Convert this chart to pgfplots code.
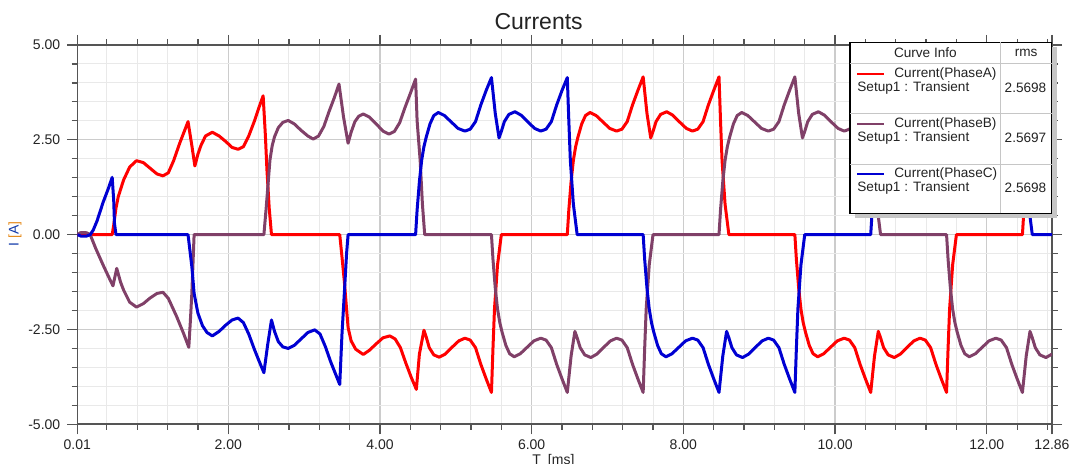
\documentclass[border=0pt]{standalone}
\usepackage{fontspec}
\setmainfont{Liberation Sans}
\usepackage{pgfplots}
\pgfplotsset{compat=1.18}
\definecolor{phA}{RGB}{255,0,0}
\definecolor{phB}{RGB}{128,64,104}
\definecolor{phC}{RGB}{0,0,210}
\definecolor{axisgray}{RGB}{85,85,85}
\definecolor{txt}{RGB}{35,35,35}
\definecolor{ylabblue}{RGB}{20,60,170}
\definecolor{ylaborange}{RGB}{230,140,30}

\begin{document}
\begin{tikzpicture}[x=1pt,y=1pt]
\path[use as bounding box] (0,0) rectangle (539,232);
\begin{axis}[
  at={(38.65pt,19.85pt)}, anchor=south west,
  scale only axis, width=487.35pt, height=189.65pt,
  xmin=0.01, xmax=12.86, ymin=-5, ymax=5,
  xtick={0.01,2,4,6,8,10,12,12.86},
  xticklabels={0.01,2.00,4.00,6.00,8.00,10.00,12.00,12.86},
  minor xtick={0.4,0.8,...,12.8},
  ytick={-5,-2.5,0,2.5,5},
  yticklabels={-5.00,-2.50,0.00,2.50,5.00},
  minor ytick={-4.5,-4,...,4.5},
  tick align=outside,
  major tick length=5pt, minor tick length=2.8pt,
  tick style={axisgray, line width=0.6pt},
  axis line style={axisgray, line width=0.8pt},
  grid=both,
  minor grid style={gray!17, line width=0.5pt},
  major grid style={gray!40, line width=0.6pt},
  tick label style={font=\fontsize{7}{8}\selectfont, text=txt},
  xticklabel style={yshift=1pt},
  every axis plot/.append style={line width=1.5pt, line join=round},
]
\addplot[phA] coordinates {
(0.01,0) (0.47,0) (0.49,0.25) (0.52,0.70) (0.55,1.00) (0.62,1.44) (0.70,1.78) (0.79,1.95) (0.88,1.90) (0.97,1.75) (1.06,1.60) (1.14,1.55) (1.21,1.63) (1.28,1.95) (1.36,2.41) (1.42,2.72) (1.47,2.98) (1.52,2.35) (1.56,1.81) (1.60,2.12) (1.64,2.35) (1.70,2.60) (1.79,2.70) (1.88,2.60) (1.97,2.45) (2.05,2.30) (2.13,2.25) (2.20,2.32) (2.27,2.60) (2.35,3.02) (2.41,3.38) (2.46,3.66) (2.49,2.60) (2.51,1.71) (2.54,0.70) (2.57,0)
(3.47,0) (3.50,-0.60) (3.53,-1.22) (3.58,-2.45) (3.62,-2.80) (3.68,-3.02) (3.78,-3.16) (3.86,-3.05) (3.95,-2.88) (4.04,-2.72) (4.13,-2.67) (4.20,-2.75) (4.27,-2.98) (4.34,-3.38) (4.41,-3.75) (4.48,-4.08) (4.52,-3.15) (4.58,-2.52) (4.61,-2.70) (4.65,-2.98) (4.71,-3.17) (4.78,-3.23) (4.86,-3.15) (4.95,-2.97) (5.04,-2.80) (5.12,-2.73) (5.19,-2.78) (5.26,-2.98) (5.33,-3.42) (5.40,-3.80) (5.47,-4.16) (5.49,-3.00) (5.51,-1.96) (5.55,-0.80) (5.60,0)
(6.47,0) (6.49,0.65) (6.52,1.40) (6.55,1.96) (6.58,2.32) (6.61,2.57) (6.66,2.92) (6.71,3.14) (6.77,3.22) (6.85,3.14) (6.94,2.97) (7.03,2.80) (7.12,2.73) (7.19,2.78) (7.26,2.98) (7.33,3.42) (7.40,3.80) (7.47,4.16) (7.52,3.20) (7.57,2.55) (7.60,2.72) (7.64,2.98) (7.70,3.17) (7.78,3.24) (7.86,3.15) (7.95,2.97) (8.04,2.80) (8.12,2.73) (8.19,2.78) (8.26,2.98) (8.33,3.42) (8.40,3.80) (8.47,4.16) (8.49,3.00) (8.51,1.96) (8.55,0.80) (8.60,0)
(9.47,0) (9.49,-0.65) (9.52,-1.40) (9.55,-1.96) (9.58,-2.32) (9.61,-2.57) (9.66,-2.92) (9.71,-3.14) (9.77,-3.22) (9.85,-3.14) (9.94,-2.97) (10.03,-2.80) (10.12,-2.73) (10.19,-2.78) (10.26,-2.98) (10.33,-3.42) (10.40,-3.80) (10.47,-4.16) (10.52,-3.20) (10.57,-2.55) (10.60,-2.72) (10.64,-2.98) (10.70,-3.17) (10.78,-3.24) (10.86,-3.15) (10.95,-2.97) (11.04,-2.80) (11.12,-2.73) (11.19,-2.78) (11.26,-2.98) (11.33,-3.42) (11.40,-3.80) (11.47,-4.16) (11.49,-3.00) (11.51,-1.96) (11.55,-0.80) (11.60,0)
(12.47,0) (12.49,0.65) (12.52,1.40) (12.55,1.96) (12.58,2.32) (12.61,2.57) (12.66,2.92) (12.71,3.14) (12.77,3.22) (12.86,3.13)
};
\addplot[phB] coordinates {
(0.01,0) (0.05,0.05) (0.13,0.05) (0.18,0) (0.25,-0.35) (0.35,-0.80) (0.42,-1.10) (0.48,-1.35) (0.53,-0.89) (0.58,-1.25) (0.62,-1.46) (0.70,-1.78) (0.79,-1.91) (0.88,-1.82) (0.97,-1.67) (1.06,-1.55) (1.14,-1.52) (1.21,-1.68) (1.32,-2.16) (1.41,-2.60) (1.48,-2.97) (1.50,-2.30) (1.52,-1.55) (1.55,0)
(2.47,0) (2.50,0.70) (2.55,1.97) (2.58,2.35) (2.61,2.58) (2.66,2.82) (2.72,2.96) (2.79,3.01) (2.87,2.92) (2.96,2.75) (3.05,2.60) (3.12,2.52) (3.19,2.60) (3.26,2.85) (3.33,3.25) (3.40,3.62) (3.46,3.97) (3.52,3.10) (3.58,2.41) (3.62,2.70) (3.67,2.98) (3.72,3.12) (3.78,3.18) (3.86,3.10) (3.95,2.92) (4.04,2.73) (4.12,2.65) (4.19,2.72) (4.26,2.95) (4.33,3.35) (4.40,3.72) (4.47,4.10) (4.49,3.00) (4.53,1.96) (4.56,0.80) (4.59,0)
(5.47,0) (5.49,-0.65) (5.52,-1.40) (5.55,-1.96) (5.58,-2.32) (5.61,-2.57) (5.66,-2.92) (5.71,-3.14) (5.77,-3.22) (5.85,-3.14) (5.94,-2.97) (6.03,-2.80) (6.12,-2.73) (6.19,-2.78) (6.26,-2.98) (6.33,-3.42) (6.40,-3.80) (6.47,-4.16) (6.52,-3.20) (6.57,-2.55) (6.60,-2.72) (6.64,-2.98) (6.70,-3.17) (6.78,-3.24) (6.86,-3.15) (6.95,-2.97) (7.04,-2.80) (7.12,-2.73) (7.19,-2.78) (7.26,-2.98) (7.33,-3.42) (7.40,-3.80) (7.47,-4.16) (7.49,-3.00) (7.51,-1.96) (7.55,-0.80) (7.60,0)
(8.47,0) (8.49,0.65) (8.52,1.40) (8.55,1.96) (8.58,2.32) (8.61,2.57) (8.66,2.92) (8.71,3.14) (8.77,3.22) (8.85,3.14) (8.94,2.97) (9.03,2.80) (9.12,2.73) (9.19,2.78) (9.26,2.98) (9.33,3.42) (9.40,3.80) (9.47,4.16) (9.52,3.20) (9.57,2.55) (9.60,2.72) (9.64,2.98) (9.70,3.17) (9.78,3.24) (9.86,3.15) (9.95,2.97) (10.04,2.80) (10.12,2.73) (10.19,2.78) (10.26,2.98) (10.33,3.42) (10.40,3.80) (10.47,4.16) (10.49,3.00) (10.51,1.96) (10.55,0.80) (10.60,0)
(11.47,0) (11.49,-0.65) (11.52,-1.40) (11.55,-1.96) (11.58,-2.32) (11.61,-2.57) (11.66,-2.92) (11.71,-3.14) (11.77,-3.22) (11.85,-3.14) (11.94,-2.97) (12.03,-2.80) (12.12,-2.73) (12.19,-2.78) (12.26,-2.98) (12.33,-3.42) (12.40,-3.80) (12.47,-4.16) (12.52,-3.20) (12.57,-2.55) (12.60,-2.72) (12.64,-2.98) (12.70,-3.17) (12.78,-3.24) (12.86,-3.15)
};
\addplot[phC] coordinates {
(0.01,0) (0.06,-0.04) (0.13,-0.04) (0.18,0) (0.22,0.12) (0.27,0.36) (0.35,0.85) (0.42,1.22) (0.47,1.51) (0.49,0.90) (0.50,0.30) (0.52,0)
(1.47,0) (1.52,-0.84) (1.55,-1.55) (1.60,-2.07) (1.66,-2.40) (1.72,-2.58) (1.79,-2.67) (1.88,-2.55) (1.97,-2.38) (2.05,-2.25) (2.13,-2.20) (2.20,-2.32) (2.27,-2.62) (2.34,-3.00) (2.41,-3.35) (2.47,-3.64) (2.52,-2.90) (2.57,-2.25) (2.61,-2.55) (2.66,-2.82) (2.72,-2.96) (2.79,-3.00) (2.87,-2.92) (2.96,-2.75) (3.05,-2.58) (3.14,-2.51) (3.21,-2.62) (3.28,-2.95) (3.35,-3.35) (3.41,-3.65) (3.47,-3.95) (3.50,-2.60) (3.53,-1.56) (3.56,-0.50) (3.58,0)
(4.47,0) (4.49,0.65) (4.52,1.40) (4.55,1.96) (4.58,2.32) (4.61,2.57) (4.66,2.92) (4.71,3.14) (4.77,3.22) (4.85,3.14) (4.94,2.97) (5.03,2.80) (5.12,2.73) (5.19,2.78) (5.26,2.98) (5.33,3.42) (5.40,3.80) (5.47,4.14) (5.52,3.20) (5.57,2.55) (5.60,2.72) (5.64,2.98) (5.70,3.17) (5.78,3.24) (5.86,3.15) (5.95,2.97) (6.04,2.80) (6.12,2.73) (6.19,2.78) (6.26,2.98) (6.33,3.42) (6.40,3.80) (6.47,4.14) (6.49,3.00) (6.51,1.96) (6.55,0.80) (6.60,0)
(7.47,0) (7.49,-0.65) (7.52,-1.40) (7.55,-1.96) (7.58,-2.32) (7.61,-2.57) (7.66,-2.92) (7.71,-3.14) (7.77,-3.22) (7.85,-3.14) (7.94,-2.97) (8.03,-2.80) (8.12,-2.73) (8.19,-2.78) (8.26,-2.98) (8.33,-3.42) (8.40,-3.80) (8.47,-4.16) (8.52,-3.20) (8.57,-2.55) (8.60,-2.72) (8.64,-2.98) (8.70,-3.17) (8.78,-3.24) (8.86,-3.15) (8.95,-2.97) (9.04,-2.80) (9.12,-2.73) (9.19,-2.78) (9.26,-2.98) (9.33,-3.42) (9.40,-3.80) (9.47,-4.16) (9.49,-3.00) (9.51,-1.96) (9.55,-0.80) (9.60,0)
(10.47,0) (10.49,0.65) (10.52,1.40) (10.55,1.96) (10.58,2.32) (10.61,2.57) (10.66,2.92) (10.71,3.14) (10.77,3.22) (10.85,3.14) (10.94,2.97) (11.03,2.80) (11.12,2.73) (11.19,2.78) (11.26,2.98) (11.33,3.42) (11.40,3.80) (11.47,4.16) (11.52,3.20) (11.57,2.55) (11.60,2.72) (11.64,2.98) (11.70,3.17) (11.78,3.24) (11.86,3.15) (11.95,2.97) (12.04,2.80) (12.12,2.73) (12.19,2.78) (12.26,2.98) (12.33,3.42) (12.40,3.80) (12.47,4.16) (12.49,3.00) (12.51,1.96) (12.55,0.80) (12.60,0) (12.86,0)
};
\end{axis}
% title and axis labels
\node[font=\fontsize{11.5}{13}\selectfont, text=txt] at (269.3,221.3) {Currents};
\node[font=\fontsize{7}{8}\selectfont, text=txt] at (276.7,1.8) {T\enspace[ms]};
\node[font=\fontsize{7}{8}\selectfont, rotate=90] at (7.5,115)
  {\textcolor{ylabblue}{I} \textcolor{ylaborange}{[}\textcolor{ylabblue}{A}\textcolor{ylaborange}{]}};
% curve info table
\fill[gray!45] (427.5,122.85) rectangle (528.35,208.35);
\filldraw[fill=white, draw=black, line width=0.6pt] (425,125.35) rectangle (525.85,210.85);
\draw[gray!45, line width=0.5pt] (500.35,125.35) -- (500.35,210.85)
  (425,200.35) -- (525.85,200.35) (425,175) -- (525.85,175) (425,149.85) -- (525.85,149.85);
\begin{scope}[every node/.style={font=\fontsize{6.8}{8}\selectfont, text=txt, inner sep=0pt}]
\node at (462.7,205.6) {Curve Info};
\node at (513.1,205.6) {rms};
\draw[phA, line width=1.2pt] (428.5,194.85) -- (442,194.85);
\node[anchor=west] at (447,194.85) {Current(PhaseA)};
\node[anchor=west] at (428.5,187.85) {Setup1 : Transient};
\node[anchor=east] at (523.35,187.85) {2.5698};
\draw[phB, line width=1.2pt] (428.5,169.85) -- (442,169.85);
\node[anchor=west] at (447,169.85) {Current(PhaseB)};
\node[anchor=west] at (428.5,162.85) {Setup1 : Transient};
\node[anchor=east] at (523.35,162.85) {2.5697};
\draw[phC, line width=1.2pt] (428.5,144.85) -- (442,144.85);
\node[anchor=west] at (447,144.85) {Current(PhaseC)};
\node[anchor=west] at (428.5,137.85) {Setup1 : Transient};
\node[anchor=east] at (523.35,137.85) {2.5698};
\end{scope}
\end{tikzpicture}
\end{document}
